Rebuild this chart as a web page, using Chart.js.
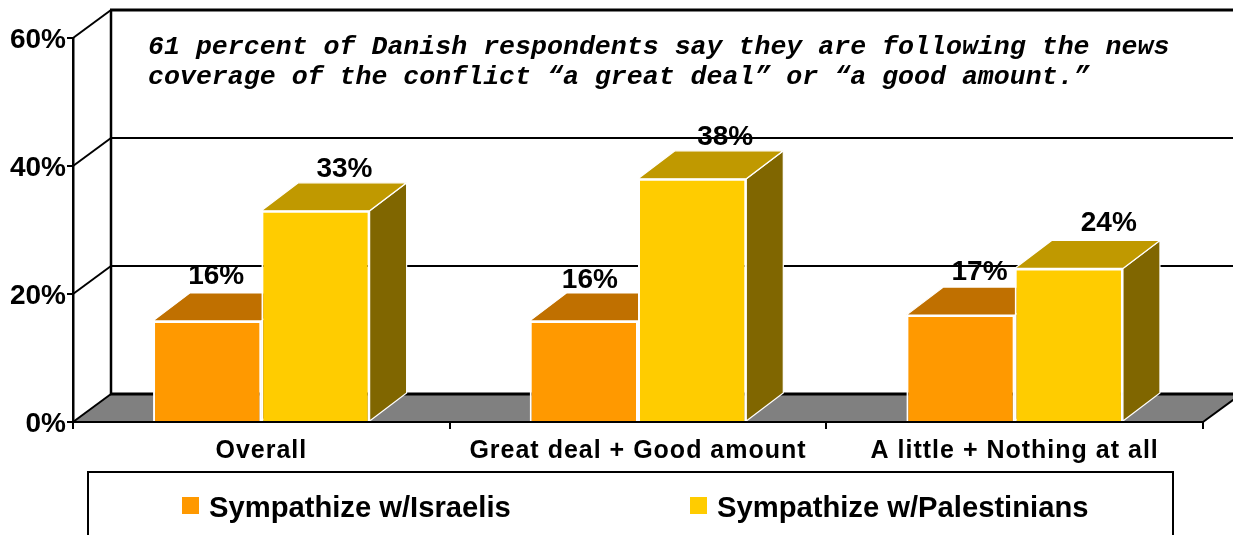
<!DOCTYPE html>
<html>
<head>
<meta charset="utf-8">
<title>Sympathy chart</title>
<script src="https://cdn.jsdelivr.net/npm/chart.js@4/dist/chart.umd.js"></script>
<style>
  html, body { margin: 0; padding: 0; background: #fff; overflow: hidden; }
  canvas { display: block; }
</style>
</head>
<body>
<canvas id="sympathyChart" width="1233" height="535"></canvas>
<script>
const categories = ["Overall", "Great deal + Good amount", "A little + Nothing at all"];
const israelisValues = [15.8, 15.8, 16.7];
const palestiniansValues = [33, 38, 24];
const israelisShown = ["16%", "16%", "17%"];
const palestiniansShown = ["33%", "38%", "24%"];
const yTicks = [0, 20, 40, 60];
const noteLines = [
  "61 percent of Danish respondents say they are following the news",
  "coverage of the conflict \u201Ca great deal\u201D or \u201Ca good amount.\u201D",
];

const DEPTH_X = 38;
const DEPTH_Y = 28;
const BAR_DEPTH_X = 37;
const SANS = '"Liberation Sans", Arial, sans-serif';

const faceColors = [
  { top: "#C07000", side: "#804C00" },
  { top: "#C09900", side: "#806600" },
];

// the value labels sit by hand in the original, so each one gets a nudge
const labelNudges = [
  [{ x: 9, y: -9 }, { x: 6, y: -5 }, { x: 19, y: -7 }],
  [{ x: 29, y: -6 }, { x: 33, y: -6 }, { x: 40, y: -9 }],
];

const poly = (ctx, pts, fill, stroke, width) => {
  ctx.beginPath();
  pts.forEach((p, i) => (i ? ctx.lineTo(p[0], p[1]) : ctx.moveTo(p[0], p[1])));
  ctx.closePath();
  if (fill) {
    ctx.fillStyle = fill;
    ctx.fill();
  }
  if (stroke) {
    ctx.strokeStyle = stroke;
    ctx.lineWidth = width;
    ctx.stroke();
  }
};

const line = (ctx, x1, y1, x2, y2, width) => {
  ctx.beginPath();
  ctx.moveTo(x1, y1);
  ctx.lineTo(x2, y2);
  ctx.strokeStyle = "#000";
  ctx.lineWidth = width;
  ctx.stroke();
};

const box3d = {
  id: "box3d",
  beforeDraw(chart) {
    const { ctx, chartArea: area, scales } = chart;
    const floorY = scales.y.getPixelForValue(0);
    const topY = scales.y.getPixelForValue(60);
    ctx.letterSpacing = "0px";

    // floor
    poly(ctx, [
      [area.left, floorY],
      [area.left + DEPTH_X, floorY - DEPTH_Y],
      [area.right + DEPTH_X, floorY - DEPTH_Y],
      [area.right, floorY],
    ], "#808080");
    line(ctx, area.left + DEPTH_X - 1, floorY - DEPTH_Y, area.right + DEPTH_X, floorY - DEPTH_Y, 3);
    line(ctx, area.left, floorY, area.left + DEPTH_X, floorY - DEPTH_Y, 2);
    line(ctx, area.right, floorY, area.right + DEPTH_X, floorY - DEPTH_Y, 2);

    // back wall and left wall
    line(ctx, area.left + DEPTH_X, topY - DEPTH_Y, area.left + DEPTH_X, floorY - DEPTH_Y, 2.5);
    line(ctx, area.left + DEPTH_X - 1, topY - DEPTH_Y, area.right + DEPTH_X, topY - DEPTH_Y, 3);
    yTicks.slice(1).forEach((v) => {
      const y = scales.y.getPixelForValue(v);
      line(ctx, area.left, y, area.left + DEPTH_X, y - DEPTH_Y, 2);
      if (v < 60) line(ctx, area.left + DEPTH_X, y - DEPTH_Y, area.right + DEPTH_X, y - DEPTH_Y, 2);
    });
  },
  beforeDatasetsDraw(chart) {
    const { ctx } = chart;
    chart.data.datasets.forEach((ds, d) => {
      chart.getDatasetMeta(d).data.forEach((bar) => {
        const left = bar.x - bar.width / 2;
        const right = bar.x + bar.width / 2;
        poly(ctx, [
          [right, bar.y],
          [right + BAR_DEPTH_X, bar.y - DEPTH_Y],
          [right + BAR_DEPTH_X, bar.base - DEPTH_Y],
          [right, bar.base],
        ], faceColors[d].side, "#fff", 1.2);
        poly(ctx, [
          [left, bar.y],
          [left + BAR_DEPTH_X, bar.y - DEPTH_Y],
          [right + BAR_DEPTH_X, bar.y - DEPTH_Y],
          [right, bar.y],
        ], faceColors[d].top, "#fff", 1.2);
      });
    });
  },
  afterDatasetsDraw(chart) {
    const { ctx, scales } = chart;

    // value labels
    ctx.fillStyle = "#000";
    ctx.font = "bold 28px " + SANS;
    ctx.textAlign = "center";
    ctx.textBaseline = "alphabetic";
    [israelisShown, palestiniansShown].forEach((shown, d) => {
      chart.getDatasetMeta(d).data.forEach((bar, i) => {
        const nudge = labelNudges[d][i];
        ctx.fillText(shown[i], bar.x + nudge.x, bar.y - DEPTH_Y + nudge.y);
      });
    });

    // note on the back wall
    ctx.font = "italic bold 26.6px 'Liberation Mono', 'Courier New', monospace";
    ctx.textAlign = "left";
    noteLines.forEach((text, i) => ctx.fillText(text, 148, 54 + i * 30));

    // legend box, runs off the bottom of the page
    const boxTop = scales.y.getPixelForValue(0) + 50;
    ctx.beginPath();
    ctx.moveTo(88, 535);
    ctx.lineTo(88, boxTop);
    ctx.lineTo(1173, boxTop);
    ctx.lineTo(1173, 535);
    ctx.strokeStyle = "#000";
    ctx.lineWidth = 2;
    ctx.stroke();

    ctx.font = "bold 29.2px " + SANS;
    chart.data.datasets.forEach((ds, d) => {
      const x = d === 0 ? 182 : 690;
      ctx.fillStyle = ds.backgroundColor;
      ctx.fillRect(x, boxTop + 25, 17, 17);
      ctx.fillStyle = "#000";
      ctx.fillText(ds.label, x + 27, boxTop + 45);
    });

    // category labels draw after this (ticks z 1) and are spaced a little wider
    ctx.letterSpacing = "1px";
  },
};

new Chart(document.getElementById("sympathyChart"), {
  type: "bar",
  data: {
    labels: categories,
    datasets: [
      {
        label: "Sympathize w/Israelis",
        data: israelisValues,
        backgroundColor: "#FF9900",
        borderColor: "#fff",
        borderWidth: 2,
      },
      {
        label: "Sympathize w/Palestinians",
        data: palestiniansValues,
        backgroundColor: "#FFCC00",
        borderColor: "#fff",
        borderWidth: 2,
      },
    ],
  },
  plugins: [box3d],
  options: {
    responsive: false,
    animation: false,
    layout: { padding: { left: 0, top: 38, right: 30, bottom: 0 } },
    datasets: { bar: { categoryPercentage: 0.575, barPercentage: 1 } },
    plugins: {
      legend: { display: false },
      tooltip: { enabled: false },
    },
    scales: {
      x: {
        afterFit(scale) {
          scale.height = 113;
        },
        grid: { drawOnChartArea: false, color: "#000", lineWidth: 2, tickLength: 7 },
        border: { color: "#000", width: 2, z: 1 },
        ticks: {
          color: "#000",
          font: { family: SANS, size: 25, weight: "bold" },
          padding: 7,
          autoSkip: false,
          maxRotation: 0,
          z: 1,
        },
      },
      y: {
        min: 0,
        max: 60,
        afterFit(scale) {
          scale.width = 73;
        },
        afterBuildTicks(scale) {
          scale.ticks = yTicks.map((v) => ({ value: v }));
        },
        grid: { drawOnChartArea: false, color: "#000", lineWidth: 2, tickLength: 6 },
        border: { color: "#000", width: 2.5 },
        ticks: {
          color: "#000",
          font: { family: SANS, size: 28, weight: "bold" },
          padding: 1,
          labelOffset: 2,
          callback: (v) => v + "%",
        },
      },
    },
  },
});
</script>
</body>
</html>
